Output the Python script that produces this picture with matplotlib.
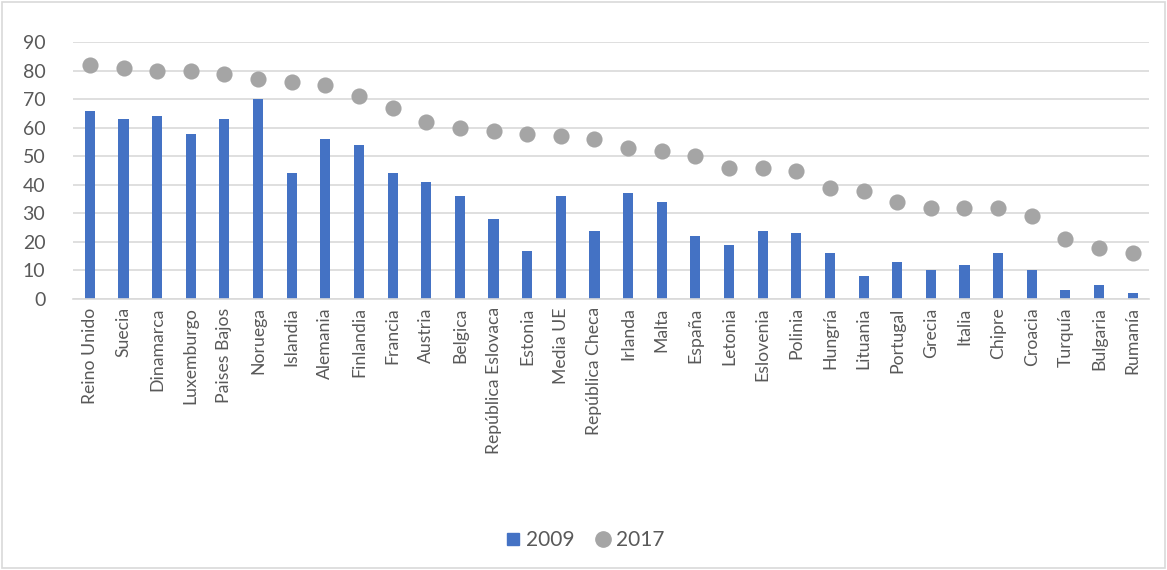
import matplotlib
matplotlib.use("Agg")
import matplotlib.pyplot as plt
from matplotlib.patches import Rectangle
from matplotlib.lines import Line2D

plt.rcParams['font.family'] = ['Lato', 'DejaVu Sans']

# Country labels (kept as written in the original chart)
countries = ['Reino Unido', 'Suecia', 'Dinamarca', 'Luxemburgo', 'Paises Bajos', 'Noruega',
             'Islandia', 'Alemania', 'Finlandia', 'Francia', 'Austria', 'Belgica',
             'República Eslovaca', 'Estonia', 'Media UE', 'República Checa', 'Irlanda',
             'Malta', 'España', 'Letonia', 'Eslovenia', 'Polinia', 'Hungría', 'Lituania',
             'Portugal', 'Grecia', 'Italia', 'Chipre', 'Croacia', 'Turquía', 'Bulgaria',
             'Rumanía']

values_2009 = [66, 63, 64, 58, 63, 70, 44, 56, 54, 44, 41, 36, 28, 17, 36, 24, 37, 34,
               22, 19, 24, 23, 16, 8, 13, 10, 12, 16, 10, 3, 5, 2]
values_2017 = [82, 81, 80, 80, 79, 77, 76, 75, 71, 67, 62, 60, 59, 58, 57, 56, 53, 52,
               50, 46, 46, 45, 39, 38, 34, 32, 32, 32, 29, 21, 18, 16]

blue = '#4472c4'
grey = '#a5a5a5'
text_col = '#595959'

fig = plt.figure(figsize=(11.67, 5.70), dpi=100)
ax = fig.add_axes([0.0626, 0.4754, 0.9224, 0.4506])

x = list(range(len(countries)))
ax.bar(x, values_2009, width=0.3, color=blue, zorder=2)
ax.scatter(x, values_2017, s=135, color=grey, zorder=3, linewidths=0)

ax.set_xlim(-0.5, len(countries) - 0.5)
ax.set_ylim(0, 90)
ax.set_yticks(range(0, 91, 10))
ax.yaxis.grid(True, color='#d9d9d9', linewidth=1.2, zorder=0)
ax.set_axisbelow(True)

for side in ['top', 'right', 'left']:
    ax.spines[side].set_visible(False)
ax.spines['bottom'].set_color('#d9d9d9')
ax.spines['bottom'].set_linewidth(1.2)

ax.set_xticks(x)
ax.set_xticklabels(countries, rotation=90, fontsize=12.7, color=text_col)
ax.tick_params(axis='x', length=0, pad=6)
ax.tick_params(axis='y', length=0, pad=20, labelsize=14, labelcolor=text_col)

# Legend at the bottom
handles = [Line2D([], [], marker='s', color=blue, linestyle='None', markersize=8),
           Line2D([], [], marker='o', color=grey, linestyle='None', markersize=11)]
fig.legend(handles, ['2009', '2017'], loc='center', bbox_to_anchor=(0.5, 0.052),
           ncol=2, frameon=False, fontsize=15, labelcolor=text_col,
           handletextpad=0.1, columnspacing=0.9, handlelength=1.0)

# Outer border
fig.patches.append(Rectangle((0.002, 0.003), 0.996, 0.994, transform=fig.transFigure,
                             fill=False, edgecolor='#d9d9d9', linewidth=1.2))

fig.savefig('out.png', dpi=100)
